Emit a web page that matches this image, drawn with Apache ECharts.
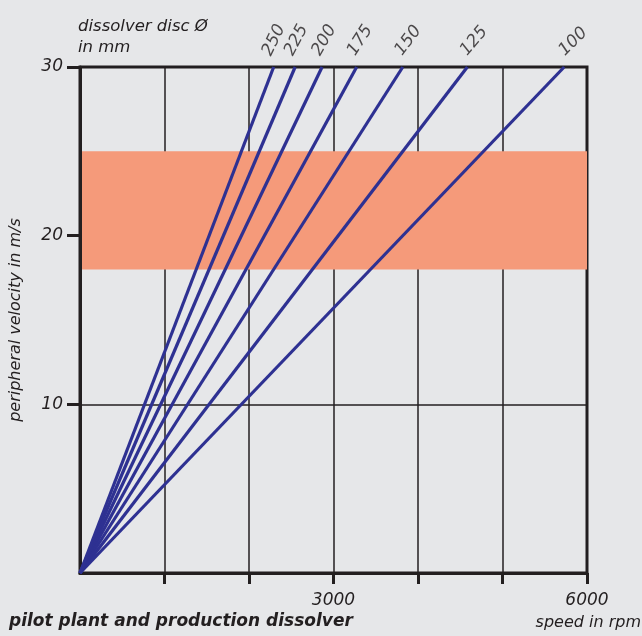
<!DOCTYPE html>
<html>
<head>
<meta charset="utf-8">
<script src="https://cdn.jsdelivr.net/npm/echarts@6/dist/echarts.min.js"></script>
<style>
html,body{margin:0;padding:0;background:#e6e7e9;}
#c{width:642px;height:636px;}
</style>
</head>
<body>
<div id="c"></div>
<script>
// ---- data ----
const diameters = ['100', '125', '150', '175', '200', '225', '250'];
const rpmAtTop = [5730, 4584, 3820, 3274, 2865, 2546, 2292];
const velocityTop = 30;
const bandRange = [18, 25];
const xTickValues = [1000, 2000, 3000, 4000, 5000, 6000];
const xLabelValues = [3000, 6000];
const yTickValues = [10, 20, 30];

// ---- styles ----
const labelRotate = [45, 50, 53, 57, 60, 62, 64];
const NAVY = '#2e3192';
const INK = '#231f20';
const FONT = "'DejaVu Sans', sans-serif";

const chart = echarts.init(document.getElementById('c'));

const series = [];
series.push({
  type: 'line', z: 0, silent: true, symbol: 'none', data: [],
  markArea: {
    silent: true,
    itemStyle: { color: '#f59a7a', opacity: 1 },
    data: [[{ yAxis: bandRange[0] }, { yAxis: bandRange[1] }]]
  }
});
diameters.forEach((d, i) => {
  series.push({
    type: 'line', z: 3, silent: true, symbol: 'none',
    lineStyle: { color: NAVY, width: 3.2 },
    data: [[0, 0], [rpmAtTop[i], velocityTop]]
  });
  series.push({
    type: 'scatter', z: 4, silent: true, symbolSize: 0,
    data: [[rpmAtTop[i], velocityTop]],
    label: {
      show: true, formatter: d, position: 'inside',
      align: 'left', verticalAlign: 'bottom',
      rotate: labelRotate[i], offset: [8, -3],
      fontFamily: FONT, fontStyle: 'italic', fontWeight: 'normal',
      fontSize: 17, color: INK
    }
  });
});

chart.setOption({
  backgroundColor: '#e6e7e9',
  animation: false,
  grid: { left: 79, top: 67, width: 508, height: 506, show: true,
          borderColor: INK, borderWidth: 3, backgroundColor: 'transparent', z: 1 },
  xAxis: {
    type: 'value', min: 0, max: 6000, interval: 1000, z: 1,
    axisLine: { show: true, lineStyle: { color: INK, width: 3 } },
    axisTick: { show: true, length: 11, lineStyle: { color: INK, width: 3 }, customValues: xTickValues },
    splitLine: { show: true, lineStyle: { color: INK, width: 1.5 } },
    axisLabel: { customValues: xLabelValues, margin: 19, formatter: v => String(v),
                 fontFamily: FONT, fontStyle: 'italic', fontWeight: 'normal', fontSize: 17, color: INK }
  },
  yAxis: {
    type: 'value', min: 0, max: 30, interval: 10, z: 1,
    name: 'peripheral velocity in m/s', nameLocation: 'middle', nameGap: 56, nameRotate: 90,
    nameTextStyle: { fontFamily: FONT, fontStyle: 'italic', fontWeight: 'normal', fontSize: 16, color: INK },
    axisLine: { show: true, lineStyle: { color: INK, width: 3 } },
    axisTick: { show: true, length: 13, lineStyle: { color: INK, width: 3 }, customValues: yTickValues },
    splitLine: { show: true, lineStyle: { color: INK, width: 1.5 } },
    axisLabel: { customValues: yTickValues, margin: 17, formatter: v => String(v),
                 fontFamily: FONT, fontStyle: 'italic', fontWeight: 'normal', fontSize: 17, color: INK }
  },
  graphic: [
    { type: 'text', left: 78, top: 16, z: 10,
      style: { text: 'dissolver disc Ø\nin mm', lineHeight: 21, fontFamily: FONT, fontStyle: 'italic',
               fontWeight: 'normal', fontSize: 16.5, fill: INK } },
    { type: 'text', left: 9, top: 613, z: 10,
      style: { text: 'pilot plant and production dissolver', fontFamily: FONT, fontStyle: 'italic',
               fontWeight: 'bold', fontSize: 17, fill: INK } },
    { type: 'text', right: 1, top: 615, z: 10,
      style: { text: 'speed in rpm', fontFamily: FONT, fontStyle: 'italic',
               fontWeight: 'normal', fontSize: 16, fill: INK } }
  ],
  series: series
});
</script>
</body>
</html>
